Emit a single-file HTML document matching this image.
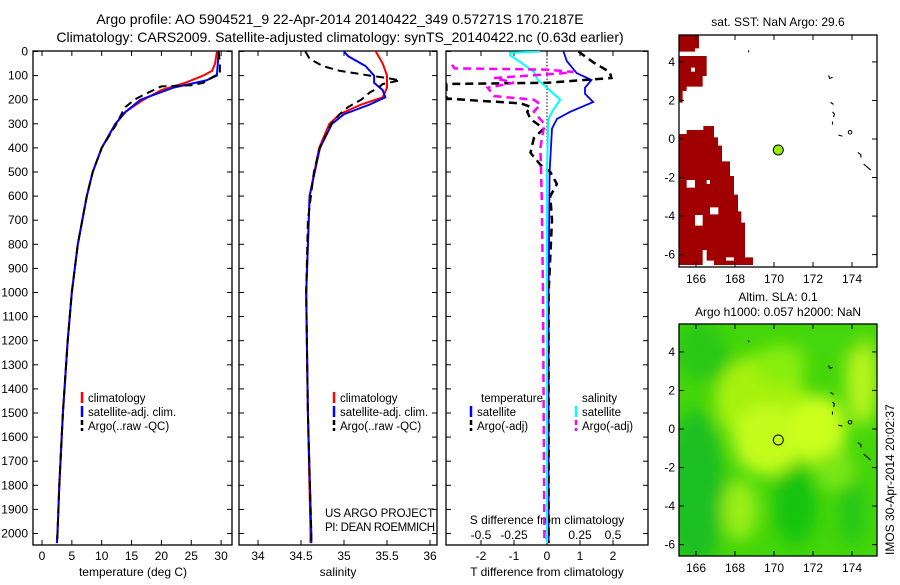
<!DOCTYPE html>
<html><head><meta charset="utf-8"><style>
body{margin:0;background:#fff;}
svg text{font-family:"Liberation Sans",sans-serif;fill:#000;}
</style></head><body>
<svg id="c" width="900" height="580" xmlns="http://www.w3.org/2000/svg">
<defs>
<filter id="bl" x="-50%" y="-50%" width="200%" height="200%"><feGaussianBlur stdDeviation="8"/></filter>
<clipPath id="cp1"><rect x="33" y="51" width="199" height="494"/></clipPath>
<clipPath id="cp2"><rect x="239" y="51" width="198" height="494"/></clipPath>
<clipPath id="cp3"><rect x="446" y="51" width="202" height="494"/></clipPath>
<clipPath id="cm2"><rect x="679" y="324" width="198" height="232"/></clipPath>
</defs>
<text x="340" y="24" font-size="14" text-anchor="middle">Argo profile: AO 5904521_9 22-Apr-2014 20140422_349 0.57271S 170.2187E</text>
<text x="340" y="42" font-size="14" text-anchor="middle">Climatology: CARS2009. Satellite-adjusted climatology: synTS_20140422.nc (0.63d earlier)</text>
<g id="g"></g>
</svg>
<script>
// ---------- data ----------
const depthTicks=[0,100,200,300,400,500,600,700,800,900,1000,1100,1200,1300,1400,1500,1600,1700,1800,1900,2000];
const tempTicks=[0,5,10,15,20,25,30];
const salTicks=[34,34.5,35,35.5,36];
const tdiffTicks=[-2,-1,0,1,2];
const sdiffTicks=[-0.5,-0.25,0,0.25,0.5];
const latTicks=[4,2,0,-2,-4,-6];
const lonTicks=[166,168,170,172,174];
const argoT=[[0,29.6],[50,29.8],[90,29.8],[100,29.0],[130,27],[140,25],[145,20],[150,19.5],[180,17],[200,15.5],[230,14],[250,13.5],[300,12.5],[400,10],[500,8.5],[600,7.5],[800,6],[1000,5],[1200,4.3],[1500,3.5],[1800,2.9],[2000,2.6],[2040,2.5]];
const climT=[[0,29.3],[50,29],[80,28.5],[100,27],[130,24],[160,20],[200,17],[250,14],[300,12.3],[400,10],[500,8.5],[600,7.5],[800,6],[1000,5],[1200,4.3],[1500,3.5],[1800,2.9],[2000,2.6],[2040,2.5]];
const satT=[[0,29.6],[100,29.3],[120,27.5],[150,22],[200,16.5],[250,14],[300,12.3],[400,10],[500,8.5],[600,7.5],[800,6],[1000,5],[1200,4.3],[1500,3.5],[1800,2.9],[2000,2.6],[2040,2.5]];
const argoS=[[0,34.55],[30,34.6],[60,34.75],[80,34.95],[100,35.3],[110,35.5],[120,35.65],[135,35.45],[150,35.4],[170,35.3],[200,35.2],[230,35.05],[260,34.95],[300,34.85],[400,34.72],[500,34.65],[700,34.58],[1000,34.56],[1500,34.58],[2000,34.62],[2040,34.62]];
const climS=[[0,35.37],[50,35.45],[100,35.5],[150,35.5],[190,35.45],[220,35.2],[260,34.95],[300,34.83],[400,34.71],[600,34.6],[1000,34.56],[1500,34.58],[2000,34.61],[2040,34.61]];
const satS=[[0,35.0],[20,35.05],[60,35.25],[100,35.35],[130,35.35],[160,35.45],[190,35.48],[220,35.3],[260,35.0],[300,34.86],[400,34.72],[600,34.6],[1000,34.56],[1500,34.58],[2000,34.62],[2040,34.62]];
const satTdiff=[[0,0.5],[40,0.6],[90,0.9],[118,1.35],[150,1.15],[175,1.15],[210,1.4],[250,0.7],[280,0.3],[320,0.15],[500,0.08],[1000,0.05],[2000,0.05],[2040,0.05]];
const argoTdiff=[[0,0.95],[45,1.4],[85,1.9],[110,1.95],[130,0],[135,-3.05],[150,-3.05],[195,-3.05],[205,-2],[215,-0.8],[230,-0.5],[250,-0.6],[280,-0.5],[320,-0.1],[360,-0.4],[420,-0.5],[470,-0.2],[500,0.1],[550,0.3],[600,0.1],[700,0.15],[1000,0.05],[1500,0.05],[2000,0.05],[2040,0.05]];
const satSdiff=[[0,-0.05],[5,-0.28],[15,-0.28],[45,-0.2],[85,-0.1],[118,-0.07],[150,0],[200,0.1],[240,0.05],[280,0.01],[500,0],[2040,0]];
const argoSdiff=[[55,-0.72],[70,-0.7],[75,0],[85,0.2],[90,0.12],[110,-0.4],[130,-0.25],[150,-0.45],[185,-0.4],[200,-0.1],[220,-0.05],[250,-0.1],[300,-0.02],[400,-0.05],[600,-0.04],[1000,-0.03],[2040,-0.02]];
const argoLon=[170.22];
const argoLat=[-0.57];
// ---------- helpers ----------
const NS="http://www.w3.org/2000/svg";
const G=document.getElementById('g');
function el(t,a,p){const e=document.createElementNS(NS,t);for(const k in a)e.setAttribute(k,a[k]);(p||G).appendChild(e);return e;}
const yD=d=>51.5+d*0.241;
const xT=v=>42+v*5.97;
const xS=v=>258+(v-34)*86;
const xTd=v=>547+v*33;
const xSd=v=>547+v*132;
function panel(x0,x1,name){
  const r=el('rect',{x:x0,y:51,width:x1-x0,height:494,fill:'none',stroke:'#000','stroke-width':1.3});
  
  
  depthTicks.forEach(d=>{el('line',{x1:x0,x2:x0+5,y1:yD(d),y2:yD(d),stroke:'#000'});el('line',{x1:x1,x2:x1-5,y1:yD(d),y2:yD(d),stroke:'#000'});});
}
function line(data,xf,color,dash,clip,name,w){
  const p=el('path',{d:data.map((q,i)=>(i?'L':'M')+xf(q[1]).toFixed(1)+','+yD(q[0]).toFixed(1)).join(''),fill:'none',stroke:color,'stroke-width':w||2,'stroke-dasharray':dash||'none','clip-path':'url(#'+clip+')'});
  
  
}
function txt(x,y,s,size,anchor,name){const t=el('text',{x:x,y:y,'font-size':size||12,'text-anchor':anchor||'start'});t.textContent=s;
  
  return t;}
// panel 1
panel(33,232,'temperature-panel');
depthTicks.forEach(d=>txt(28,yD(d)+4,String(d),12,'end','depth-tick-label'));
tempTicks.forEach(v=>{el('line',{x1:xT(v),x2:xT(v),y1:51,y2:56,stroke:'#000'});el('line',{x1:xT(v),x2:xT(v),y1:545,y2:540,stroke:'#000'});txt(xT(v),560,String(v),12,'middle','temp-tick-label');});
txt(133,576,'temperature (deg C)',12,'middle','x-axis-title-temperature');
line(climT,xT,'#f00',null,'cp1','climatology-temp-line');
line(satT,xT,'#00f',null,'cp1','satellite-temp-line');
line(argoT,xT,'#000','8,5','cp1','argo-temp-line');
// panel 2
panel(239,437,'salinity-panel');
salTicks.forEach(v=>{el('line',{x1:xS(v),x2:xS(v),y1:51,y2:56,stroke:'#000'});el('line',{x1:xS(v),x2:xS(v),y1:545,y2:540,stroke:'#000'});txt(xS(v),560,String(v),12,'middle','sal-tick-label');});
txt(338,576,'salinity',12,'middle','x-axis-title-salinity');
line(climS,xS,'#f00',null,'cp2','climatology-sal-line');
line(satS,xS,'#00f',null,'cp2','satellite-sal-line');
line(argoS,xS,'#000','8,5','cp2','argo-sal-line');
// panel 3
panel(446,648,'difference-panel');
for(let d=0;d<2040;d+=14)el('line',{x1:547,x2:547,y1:yD(d),y2:yD(d)+1.5,stroke:'#000'});
tdiffTicks.forEach(v=>{el('line',{x1:xTd(v),x2:xTd(v),y1:545,y2:540,stroke:'#000'});txt(xTd(v),560,String(v),12,'middle','tdiff-tick-label');});
sdiffTicks.forEach(v=>{el('line',{x1:xSd(v),x2:xSd(v),y1:51,y2:56,stroke:'#000'});txt(xSd(v),539,String(v),12,'middle','sdiff-tick-label');});
txt(547,524,'S difference from climatology',12,'middle','s-diff-axis-title');
txt(547,576,'T difference from climatology',12,'middle','t-diff-axis-title');
line(satTdiff,xTd,'#00f',null,'cp3','satellite-tdiff-line',1.8);
line(argoTdiff,xTd,'#000','8,5','cp3','argo-tdiff-line',2.5);
line(satSdiff,xSd,'#0ff',null,'cp3','satellite-sdiff-line',2);
line(argoSdiff,xSd,'#f0f','8,5','cp3','argo-sdiff-line',2.5);
// legends
function leg(x,y,c,s,dash,n){el('line',{x1:x,x2:x,y1:y-10,y2:y+1,stroke:c,'stroke-width':2.5,'stroke-dasharray':dash||'none'});txt(x+6,y,s,11.5,'start',n);}
[[82,'legend-temp'],[334,'legend-sal']].forEach(([x,n])=>{leg(x,402,'#f00','climatology',null,n+'-clim');leg(x,416,'#00f','satellite-adj. clim.',null,n+'-sat');leg(x,430,'#000','Argo(..raw -QC)','5,3',n+'-argo');});
txt(481,402,'temperature',11.5,'start','legend-diff-temp-header');txt(582,402,'salinity',11.5,'start','legend-diff-sal-header');
leg(471,416,'#00f','satellite',null,'legend-diff-sat-t');leg(471,430,'#000','Argo(-adj)','5,3','legend-diff-argo-t');
leg(576,416,'#0ff','satellite',null,'legend-diff-sat-s');leg(576,430,'#f0f','Argo(-adj)','5,3','legend-diff-argo-s');
txt(325,517,'US ARGO PROJECT',11.5,'start','project-label');
const pi=txt(325,531,'PI: DEAN ROEMMICH',11.5,'start','pi-label');pi.setAttribute('textLength','110');
// maps
const xL=v=>696+(v-166)*19.5;
function mapAxes(y0,h,lat0,name){
  const r=el('rect',{x:679,y:y0,width:198,height:h,fill:'none',stroke:'#000','stroke-width':1.3});
  
  
  const yl=v=>lat0-v*19.27;
  latTicks.forEach(v=>{el('line',{x1:679,x2:684,y1:yl(v),y2:yl(v),stroke:'#000'});el('line',{x1:877,x2:872,y1:yl(v),y2:yl(v),stroke:'#000'});txt(675,yl(v)+4,String(v),12,'end','lat-tick-label');});
  lonTicks.forEach(v=>{el('line',{x1:xL(v),x2:xL(v),y1:y0,y2:y0+5,stroke:'#000'});el('line',{x1:xL(v),x2:xL(v),y1:y0+h,y2:y0+h-5,stroke:'#000'});txt(xL(v),y0+h+16,String(v),12,'middle','lon-tick-label');});
  return yl;
}
// map 1 red area
const mg=el('g',{transform:'translate(660,20) scale(0.33333)',fill:'#a00000'});


el('path',{'fill-rule':'evenodd',d:'M58,45H117V85H105V95H58Z M58,108H140V168H128V200H80V213H68V248H58Z M93,143H105V155H93Z M58,342H80V330H130V318H162V352H174V377H186V424H210V468H222V524H234V574H244V608H255V712H279V735H162V722H140V690H128V735H58Z M80,480H105V503H80Z M140,480H150V492H140Z M105,585H128V617H105Z M150,562H175V583H150Z M198,712H222V722H198Z'},mg);
const yl1=mapAxes(35,232,139,'sst-map');
txt(778,26,'sat. SST: NaN Argo: 29.6',12,'middle','sst-map-title');
// map 2 green field
const gg=el('g',{'clip-path':'url(#cm2)'});


el('rect',{x:679,y:324,width:198,height:232,fill:'#44d60a'},gg);
const bg=el('g',{filter:'url(#bl)'},gg);
[[695,490,30,80,'#1cc020'],[700,350,25,30,'#2cc818'],[725,380,12,30,'#1cc818'],[760,400,45,45,'#a6f20e'],[768,440,35,35,'#c4fc1c'],[818,430,28,35,'#ccff1c'],[780,365,25,20,'#88ee0a'],[795,505,22,40,'#14c410'],[740,510,18,30,'#99ee16'],[862,380,16,45,'#b6f51c'],[852,510,14,35,'#28c812'],[830,342,35,15,'#44d810'],[835,470,20,20,'#7ae614']].forEach(b=>el('ellipse',{cx:b[0],cy:b[1],rx:b[2],ry:b[3],fill:b[4]},bg));
const yl2=mapAxes(324,232,429,'sla-map');
txt(778,301,'Altim. SLA: 0.1',12,'middle','sla-map-title');
txt(778,316,'Argo h1000: 0.057 h2000: NaN',12,'middle','sla-map-subtitle');
// coast fragments
[yl1,yl2].forEach(yl=>{
  el('path',{d:`M${xL(172.8)},${yl(3.3)}l1,3l3,-1 M${xL(172.9)},${yl(1.9)}l3,2 M${xL(173)},${yl(1.4)}l2,2l-1,3 M${xL(173)},${yl(0.9)}v3 M${xL(173.3)},${yl(0.2)}l4,1 M${xL(174.3)},${yl(-0.7)}l3,2v3 M${xL(174.6)},${yl(-1.3)}l7,6 M${xL(168.7)},${yl(4.6)}v2`,stroke:'#000','stroke-width':1.1,fill:'none'});
  el('circle',{cx:xL(173.9),cy:yl(0.35),r:1.8,fill:'none',stroke:'#000'});
});
argoLon.forEach((lo,i)=>{
  const c1=el('circle',{cx:xL(lo),cy:yl1(argoLat[i]),r:5,fill:'#9e0',stroke:'#000'});
  
  
  const c2=el('circle',{cx:xL(lo),cy:yl2(argoLat[i]),r:5,fill:'none',stroke:'#000'});
  
  
});
const rt=txt(0,0,'IMOS 30-Apr-2014 20:02:37',12,'start','imos-timestamp');
rt.setAttribute('transform','translate(894,555) rotate(-90)');
</script>
</body></html>
